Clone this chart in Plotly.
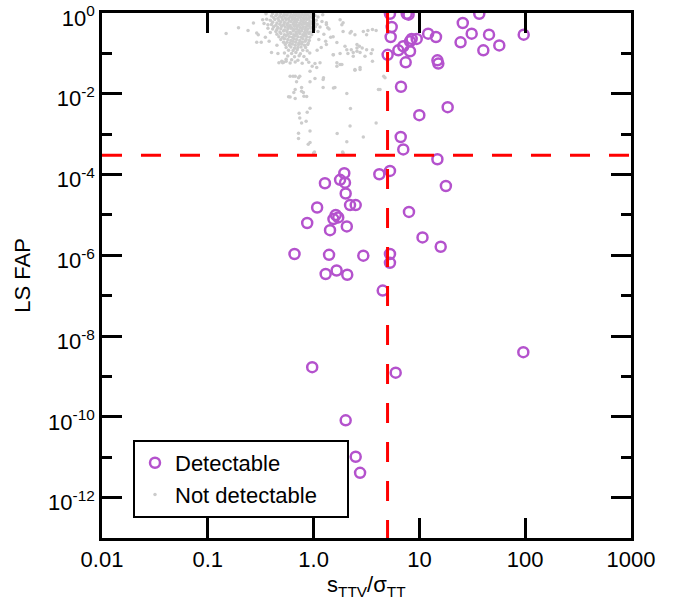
import plotly.graph_objects as go

# detectable systems: s_TTV/sigma_TT ratio and LS false alarm probability
det_ratio = [5.27, 7.59, 7.9, 5.47, 5.35, 5.01, 6.32, 7.04, 8.15, 8.45, 9.43, 8.15, 7.42,
             12.1, 14.35, 14.8, 15.1, 6.70, 9.98, 18.5, 6.66, 7.04, 14.8, 25.7, 31.2, 24.5,
             36.8, 45.5, 40.2, 56.9, 96.8, 4.18, 5.27, 17.8, 7.97, 10.7, 15.9, 2.95, 5.27,
             5.27, 4.50, 96.0, 5.97, 1.95, 1.78, 1.98, 1.28, 2.01, 2.21, 2.50, 1.08, 1.62,
             1.71, 1.54, 0.87, 2.06, 1.43, 0.66, 1.40, 1.30, 1.65, 2.08, 0.97, 2.01, 2.50, 2.75]
det_fap = [0.96, 0.96, 0.91, 0.45, 0.255, 0.092, 0.119, 0.150, 0.199, 0.228, 0.228, 0.113, 0.060,
           0.308, 0.255, 0.0675, 0.056, 0.0149, 0.00296, 0.00467, 8.5e-4, 4.2e-4, 2.39e-4, 0.567,
           0.308, 0.188, 0.96, 0.291, 0.119, 0.158, 0.291, 1.02e-4, 1.23e-4, 5.2e-5, 1.19e-5,
           2.78e-6, 1.63e-6, 9.8e-7, 1.08e-6, 6.5e-7, 1.34e-7, 4.0e-9, 1.24e-9, 1.08e-4, 7.4e-5,
           6.3e-5, 6.1e-5, 3.4e-5, 1.75e-5, 1.75e-5, 1.53e-5, 1.0e-5, 8.7e-6, 7.9e-6, 6.3e-6,
           5.2e-6, 4.2e-6, 1.08e-6, 1.03e-6, 3.45e-7, 4.2e-7, 3.3e-7, 1.7e-9, 8.2e-11, 1.03e-11, 4.1e-12]

# not detectable: dense cluster plus scattered points
nd_ratio = [
    0.41, 0.45, 0.49, 0.53, 0.57, 0.61, 0.65, 0.69, 0.73, 0.78, 0.83, 0.88, 0.94, 1.0,
    0.40, 0.44, 0.48, 0.52, 0.56, 0.60, 0.64, 0.68, 0.72, 0.76, 0.81, 0.86, 0.91, 0.97, 1.03,
    0.42, 0.46, 0.50, 0.54, 0.58, 0.62, 0.66, 0.70, 0.75, 0.80, 0.85, 0.90, 0.96,
    0.39, 0.43, 0.47, 0.51, 0.55, 0.59, 0.63, 0.67, 0.71, 0.76, 0.81, 0.86, 0.92, 0.99, 1.06,
    0.41, 0.45, 0.49, 0.53, 0.57, 0.61, 0.65, 0.69, 0.74, 0.79, 0.84, 0.89, 0.95, 1.02,
    0.40, 0.44, 0.48, 0.52, 0.56, 0.60, 0.64, 0.68, 0.72, 0.77, 0.82, 0.87, 0.93, 1.0, 1.08,
    0.42, 0.46, 0.50, 0.54, 0.58, 0.62, 0.66, 0.70, 0.75, 0.80, 0.85, 0.91, 0.97, 1.04,
    0.41, 0.45, 0.49, 0.53, 0.57, 0.61, 0.65, 0.69, 0.73, 0.78, 0.83, 0.88, 0.94, 1.01,
    0.44, 0.48, 0.52, 0.56, 0.60, 0.64, 0.68, 0.72, 0.77, 0.82, 0.87, 0.93, 0.99,
    0.45, 0.49, 0.53, 0.57, 0.61, 0.65, 0.69, 0.74, 0.79, 0.84, 0.90, 0.96,
    0.47, 0.51, 0.55, 0.59, 0.63, 0.67, 0.71, 0.76, 0.81, 0.86, 0.92,
    0.49, 0.53, 0.57, 0.61, 0.65, 0.69, 0.74, 0.79, 0.85, 0.91,
    0.52, 0.56, 0.60, 0.64, 0.68, 0.73, 0.78, 0.83, 0.89,
    0.54, 0.59, 0.63, 0.67, 0.72, 0.77, 0.82, 0.88,
    0.55, 0.61, 0.66, 0.71, 0.76, 0.84,
    0.58, 0.64, 0.70, 0.79, 0.87,
    0.53, 0.62, 0.68, 0.75, 0.92,
    0.57, 0.66, 0.73, 0.81,
    0.55, 0.62, 0.71, 0.86,
    0.52, 0.60, 0.67, 0.78, 0.90,
    0.149, 0.195, 0.24, 0.27, 0.29, 0.29, 0.32, 0.30, 0.37, 0.39, 0.33, 0.355,
    0.36, 0.37, 0.35, 0.38, 0.34,
    0.40, 0.45, 0.46, 0.47, 0.50, 0.55, 0.51, 0.60, 0.64, 0.67, 0.72, 0.74, 0.69,
    0.925, 0.925, 0.97, 1.03, 1.23, 1.24, 1.59, 1.07, 1.03, 1.15,
    1.32, 1.36, 1.53, 1.66, 1.78, 1.90, 1.85, 1.98, 2.46, 2.21, 2.37, 2.57, 2.75,
    3.17, 3.6, 3.26, 2.95, 3.9, 2.75, 1.66, 1.78, 1.54, 1.78, 2.11, 2.27, 2.57,
    2.71, 2.57, 2.88, 3.06, 3.5, 3.6, 1.85, 1.66, 2.46, 2.75, 2.46, 4.6, 4.73,
    4.24, 4.1, 1.23, 1.54, 0.77, 0.67, 0.60, 0.80, 0.86, 0.58, 0.67, 0.65, 0.77, 0.81,
    0.925, 0.87, 0.73, 0.74, 0.85, 0.77, 0.925, 0.72, 0.72, 0.925, 0.89, 1.02,
    2.06, 2.23, 2.21, 1.67, 2.06, 2.95, 1.88, 3.9, 1.0, 1.9,
    1.32, 1.90, 2.27, 3.17, 2.06, 2.37, 3.6, 1.32, 1.53,
    1.1, 1.2, 1.15, 1.25, 1.12, 1.3, 1.18, 1.08, 1.4, 1.45, 1.1, 1.22,
]
nd_fap = [
    0.97, 0.93, 0.96, 0.92, 0.98, 0.94, 0.91, 0.97, 0.95, 0.92, 0.96, 0.93, 0.97, 0.94,
    0.84, 0.87, 0.83, 0.86, 0.88, 0.82, 0.85, 0.87, 0.83, 0.86, 0.84, 0.88, 0.82, 0.85, 0.87,
    0.76, 0.74, 0.78, 0.75, 0.73, 0.77, 0.75, 0.72, 0.78, 0.74, 0.76, 0.73, 0.77,
    0.66, 0.69, 0.65, 0.68, 0.67, 0.64, 0.69, 0.66, 0.68, 0.65, 0.67, 0.69, 0.64, 0.67, 0.66,
    0.59, 0.57, 0.60, 0.58, 0.56, 0.61, 0.58, 0.59, 0.57, 0.60, 0.58, 0.56, 0.59, 0.57,
    0.52, 0.50, 0.53, 0.51, 0.52, 0.49, 0.53, 0.51, 0.50, 0.52, 0.54, 0.50, 0.52, 0.51, 0.53,
    0.46, 0.44, 0.47, 0.45, 0.46, 0.43, 0.47, 0.45, 0.44, 0.46, 0.45, 0.47, 0.44, 0.46,
    0.40, 0.39, 0.41, 0.38, 0.40, 0.42, 0.39, 0.40, 0.38, 0.41, 0.39, 0.40, 0.42, 0.39,
    0.35, 0.34, 0.36, 0.35, 0.33, 0.36, 0.34, 0.35, 0.36, 0.33, 0.35, 0.34, 0.36,
    0.30, 0.31, 0.29, 0.30, 0.31, 0.29, 0.30, 0.31, 0.29, 0.30, 0.31, 0.29,
    0.26, 0.25, 0.27, 0.26, 0.25, 0.27, 0.26, 0.25, 0.27, 0.26, 0.25,
    0.22, 0.23, 0.22, 0.21, 0.23, 0.22, 0.21, 0.23, 0.22, 0.21,
    0.19, 0.19, 0.18, 0.20, 0.19, 0.18, 0.19, 0.20, 0.18,
    0.165, 0.16, 0.17, 0.16, 0.165, 0.17, 0.16, 0.165,
    0.14, 0.145, 0.135, 0.14, 0.145, 0.14,
    0.12, 0.118, 0.123, 0.12, 0.117,
    0.102, 0.1, 0.105, 0.098, 0.103,
    0.086, 0.083, 0.088, 0.084,
    0.072, 0.07, 0.068, 0.071,
    0.06, 0.058, 0.061, 0.057, 0.06,
    0.31, 0.43, 0.37, 0.57, 0.32, 0.19, 0.19, 0.29, 0.51, 0.33, 0.68, 0.96,
    0.70, 0.42, 0.25, 0.20, 0.55,
    0.105, 0.16, 0.10, 0.059, 0.064, 0.064, 0.059, 0.027, 0.027, 0.027, 0.025, 0.027, 0.020,
    0.020, 0.036, 0.048, 0.024, 0.0225, 0.025, 0.0144, 0.045, 0.056, 0.059,
    0.575, 0.43, 0.26, 0.185, 0.68, 0.575, 0.51, 0.15, 0.29, 0.32, 0.105, 0.165, 0.105,
    0.124, 0.39, 0.37, 0.35, 0.37, 0.045, 0.059, 0.053, 0.093, 0.10, 0.10, 0.124, 0.113,
    0.15, 0.137, 0.137, 0.085, 0.10, 0.064, 0.053, 0.048, 0.040, 0.040, 0.038, 0.027, 0.025,
    0.0128, 0.0128, 0.0144, 0.014, 0.0144, 0.0128, 0.0083, 0.0108, 0.0086, 0.0085, 0.0076, 0.0108, 0.0116, 0.0087,
    0.0044, 0.0035, 0.0033, 0.0025, 0.0021, 0.0019, 0.0012, 0.00105, 0.00078, 0.00062, 0.00056, 0.00036,
    0.0102, 0.0043, 0.0016, 0.00104, 0.00065, 0.00085, 0.00036, 0.0019, 0.00034, 0.00034,
    0.52, 0.35, 0.35, 0.29, 0.124, 0.085, 0.124, 0.165, 0.093,
    0.8, 0.62, 0.45, 0.3, 0.22, 0.2, 0.14, 0.12, 0.4, 0.25, 0.35, 0.9,
]

x_tickvals = [0.01, 0.1, 1, 10, 100, 1000]
x_ticktext = ["0.01", "0.1", "1.0", "10", "100", "1000"]
y_tickvals = [1, 1e-2, 1e-4, 1e-6, 1e-8, 1e-10, 1e-12]
y_ticktext = ["10<sup>0</sup>", "10<sup>-2</sup>", "10<sup>-4</sup>", "10<sup>-6</sup>",
              "10<sup>-8</sup>", "10<sup>-10</sup>", "10<sup>-12</sup>"]
y_minor = [1e-1, 1e-3, 1e-5, 1e-7, 1e-9, 1e-11]

ratio_cut = 5.0
fap_cut = 3e-4

purple = "#B452CD"
font = "Liberation Sans, Arial, sans-serif"

fig = go.Figure()
fig.add_trace(go.Scatter(x=nd_ratio, y=nd_fap, mode="markers", name="Not detectable\u00a0\u00a0\u00a0\u00a0",
                         marker=dict(size=3.5, color="#CCCCCC"), legendrank=2))
fig.add_trace(go.Scatter(x=det_ratio, y=det_fap, mode="markers", name="Detectable",
                         marker=dict(symbol="circle-open", size=10, color=purple, line=dict(width=2.5)),
                         legendrank=1))

dash = "20px,19px"
fig.add_shape(type="line", xref="paper", yref="y", x0=0, x1=1, y0=fap_cut, y1=fap_cut,
              line=dict(color="red", width=3, dash=dash), layer="above")
fig.add_shape(type="line", xref="x", yref="paper", x0=ratio_cut, x1=ratio_cut, y0=1, y1=0,
              line=dict(color="red", width=3, dash=dash), layer="above")

axis_common = dict(type="log", showgrid=False, zeroline=False, showline=True, linecolor="black",
                   linewidth=2.5, mirror="allticks", ticks="inside", ticklen=20, tickwidth=2.5,
                   tickcolor="black", tickfont=dict(size=22, color="black", family=font),
                   automargin=False)

fig.update_xaxes(range=[-2, 3], tickvals=x_tickvals, ticktext=x_ticktext, **axis_common)
fig.update_yaxes(range=[-13, 0.0005], tickvals=y_tickvals, ticktext=y_ticktext,
                 ticklabeloverflow="allow", ticklabelshift=5,
                 minor=dict(tickvals=y_minor, ticks="inside", ticklen=10, tickwidth=2.5, tickcolor="black",
                            showgrid=False),
                 title=dict(text="LS FAP", font=dict(size=22, color="black", family=font), standoff=12),
                 **axis_common)

# x-axis title placed as an annotation so it sits close under the tick labels
fig.add_annotation(text="s<sub>TTV</sub>/σ<sub>TT</sub>", xref="paper", yref="paper", x=0.5, y=0,
                   xanchor="center", yanchor="top", yshift=-32, showarrow=False,
                   font=dict(size=22, color="black", family=font))

fig.update_layout(
    width=689, height=610,
    margin=dict(l=102, r=58, t=13, b=72),
    paper_bgcolor="white", plot_bgcolor="white",
    font=dict(family=font, size=22, color="black"),
    showlegend=True,
    legend=dict(x=0.0586, y=0.1867, xanchor="left", yanchor="top",
                bordercolor="black", borderwidth=2, bgcolor="white",
                font=dict(size=22, color="black", family=font)),
)

# drop the default page margin so the figure sits at the window corner
fig.write_html("out.html", config={"displayModeBar": False},
               post_script="document.body.style.margin = '0';")
